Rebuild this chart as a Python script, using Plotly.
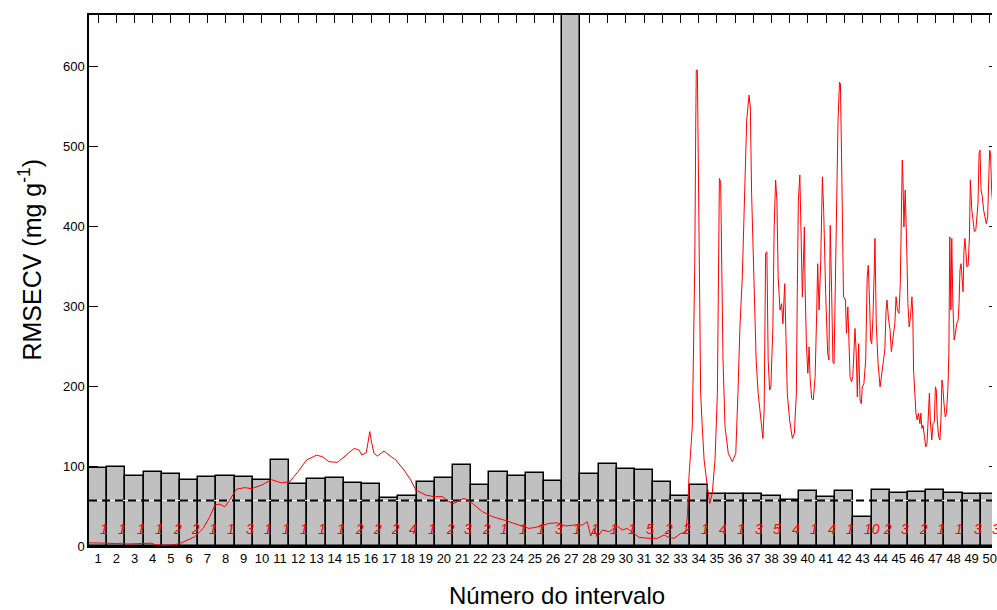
import plotly.graph_objects as go

# ---------------- data ----------------
intervals = list(range(1, 51))
rmsecv = [98, 99, 88, 92, 90, 82, 86.6, 88, 86.6, 83,
          108, 77.5, 84, 85, 79, 77.5, 60, 62, 79.6, 85,
          101.7, 75.8, 93, 88, 91, 81, 700, 89.6, 103, 96,
          94.6, 79.6, 62, 76, 65, 65, 65, 62, 57.5, 69,
          61, 69, 36.7, 70.4, 66.7, 67.5, 70.4, 66.7, 65, 65]
n_lv = [1, 1, 1, 1, 2, 2, 1, 1, 3, 1,
        1, 1, 1, 1, 2, 2, 2, 4, 1, 2,
        3, 2, 1, 1, 1, 3, 1, 1, 1, 1,
        5, 2, 2, 1, 4, 1, 3, 5, 4, 1,
        4, 1, 10, 2, 3, 2, 1, 1, 3, 3]
cutoff = 57
y_ticks = [0, 100, 200, 300, 400, 500, 600]

spec_x = [0.5, 1.0, 1.5, 2.0, 2.28, 2.6, 3.0, 3.5, 3.9, 4.11, 4.4, 4.8, 5.21, 5.58,
          6.31, 6.77, 7.14, 7.41, 7.68, 7.96, 8.23, 8.6, 9.06, 9.42, 9.97, 10.52,
          11.07, 11.53, 11.99, 12.45, 13.0, 13.33, 13.69, 14.15, 14.61, 15.07, 15.34,
          15.49, 15.74, 15.85, 15.93, 16.02, 16.16, 16.35, 16.71, 16.99, 17.36, 17.81,
          18.18, 18.46, 19.0, 19.46, 19.92, 20.47, 21.11, 21.57, 22.12, 22.66, 23.03,
          23.49, 23.58, 24.13, 24.68, 25.05, 25.41, 25.78, 26.24, 26.7, 27.15, 27.61,
          27.88, 28.07, 28.25, 28.43, 28.71, 29.08, 29.53, 29.81, 30.08, 30.36, 30.73,
          31.27, 31.73, 32.1, 32.37, 32.65, 33.02, 33.29, 33.38, 33.47, 33.65, 33.71,
          33.79, 33.84, 33.87, 33.93, 33.97, 34.02, 34.06, 34.11, 34.2, 34.3, 34.48,
          34.61, 34.75, 34.9, 35.03, 35.08, 35.14, 35.21, 35.27, 35.34, 35.45, 35.63,
          35.85, 36.04, 36.16, 36.27, 36.4, 36.53, 36.64, 36.77, 36.84, 36.91, 37.04,
          37.16, 37.27, 37.41, 37.53, 37.6, 37.68, 37.75, 37.82, 37.9, 37.97, 38.08,
          38.15, 38.23, 38.3, 38.37, 38.47, 38.56, 38.63, 38.73, 38.78, 38.87, 39.0,
          39.15, 39.26, 39.37, 39.42, 39.48, 39.56, 39.61, 39.7, 39.76, 39.81, 39.85,
          39.92, 40.0, 40.07, 40.12, 40.21, 40.3, 40.4, 40.49, 40.54, 40.62, 40.71,
          40.8, 40.87, 40.98, 41.09, 41.16, 41.23, 41.31, 41.38, 41.44, 41.53, 41.59,
          41.66, 41.74, 41.79, 41.85, 41.9, 41.96, 42.07, 42.12, 42.2, 42.25, 42.32,
          42.4, 42.47, 42.54, 42.59, 42.66, 42.72, 42.79, 42.87, 42.94, 42.99, 43.08,
          43.18, 43.26, 43.32, 43.4, 43.45, 43.51, 43.58, 43.65, 43.69, 43.76, 43.86,
          43.97, 44.04, 44.13, 44.23, 44.3, 44.35, 44.43, 44.52, 44.59, 44.7, 44.78,
          44.85, 44.92, 45.01, 45.08, 45.19, 45.23, 45.28, 45.35, 45.42, 45.5, 45.57,
          45.64, 45.72, 45.77, 45.81, 45.86, 45.94, 46.01, 46.08, 46.16, 46.21, 46.27,
          46.33, 46.41, 46.48, 46.55, 46.63, 46.68, 46.73, 46.81, 46.88, 46.95, 47.01,
          47.06, 47.11, 47.19, 47.26, 47.32, 47.37, 47.42, 47.48, 47.55, 47.62, 47.7,
          47.75, 47.8, 47.86, 47.91, 47.97, 48.04, 48.11, 48.18, 48.26, 48.31, 48.36,
          48.42, 48.47, 48.53, 48.58, 48.63, 48.69, 48.74, 48.81, 48.88, 48.93, 49.01,
          49.08, 49.15, 49.23, 49.3, 49.35, 49.41, 49.46, 49.52, 49.59, 49.66, 49.74,
          49.81, 49.88, 49.93, 49.99, 50.04, 50.1, 50.17, 50.22, 50.29]
spec_y = [4, 4, 3.5, 3, 3.5, 2.5, 3, 3, 3.5, 2, 1, 1, 1.5, 4,
          11.6, 22, 36.7, 51, 52.5, 49, 57.5, 71, 73, 71.7, 76, 83,
          79, 80.5, 93, 107.5, 113.5, 111.7, 105.4, 104.6, 113.75, 122, 120,
          113.75, 116.7, 132.5, 143, 130.4, 115.8, 112.5, 118.75, 113.75, 107.5, 95,
          82.5, 70, 63.75, 61.7, 61.7, 52.5, 59.6, 53.3, 42.9, 36.7, 34.6,
          31.25, 30.4, 26.25, 22, 23.3, 26, 28.3, 29, 25, 26.25, 26.25,
          30.4, 12.5, 22, 10.8, 20, 17.9, 25, 20, 22, 16.7, 10.8,
          9.6, 9.6, 13.75, 10.8, 9.6, 15.8, 16.7, 36.7, 86.7, 149, 232.5,
          357.5, 524, 595, 595, 482.5, 357.5, 253, 191, 149, 107.5, 74,
          53.3, 66, 107.5, 191, 336.7, 459.6, 455, 357.5, 232.5, 149, 115.8,
          105.4, 115.8, 191, 274, 336.7, 441, 532.5, 563.75, 549, 441, 316,
          232.5, 191, 157.5, 134.6, 170, 366, 368, 232.5, 195, 199, 274,
          399, 457.5, 432.5, 336.7, 295, 303, 278, 328, 274, 191, 157.5,
          134.6, 141, 191, 316, 432.5, 464, 420, 311.6, 357.5, 399, 324,
          253, 216, 249, 211.7, 184.6, 182.5, 211.7, 295, 353, 295, 357.5,
          461.6, 420, 316, 241, 232.5, 401, 316, 230, 228, 345, 457.5,
          532.5, 580, 578, 491, 395, 311.6, 307.5, 266, 299, 253, 211.7,
          205.4, 211.7, 245, 272, 241, 186.6, 253, 182.5, 178, 199, 203,
          232.5, 336.7, 351, 299, 257.5, 253, 286.6, 345, 384.6, 278, 228,
          199, 211.7, 224, 245, 295, 307.5, 284.6, 270, 243, 261.6, 278,
          311.6, 295, 291, 328, 482.5, 457.5, 399, 445, 386.6, 303, 274,
          286.6, 311.6, 286.6, 220, 195, 166, 157.5, 166, 153, 166, 147,
          151, 136.6, 124, 128, 182.5, 191, 157.5, 132.5, 153, 155, 199,
          195, 157.5, 136.6, 132.5, 161.6, 207.5, 199, 178, 161.6, 166, 199,
          241, 386.6, 295, 384.6, 303, 257.5, 266, 278, 282.5, 303, 345,
          353, 336.7, 318, 370, 384.6, 366, 349, 351, 386.6, 457.5, 420,
          407.5, 393, 395, 411.6, 428, 491, 495, 445, 436.6, 420, 411.6,
          403, 411.6, 449, 495, 491, 445, 424, 418, 428]

# ---------------- figure ----------------
X_MIN, X_MAX = 0.5, 50.12
Y_MAX = 664
FONT = "Liberation Sans, Arial, sans-serif"

fig = go.Figure()
fig.add_trace(go.Bar(
    x=intervals, y=rmsecv, width=1.0,
    marker=dict(color="#c0c0c0", line=dict(color="black", width=1.5)),
    showlegend=False, hoverinfo="skip"))
fig.add_trace(go.Scatter(
    x=[X_MIN, X_MAX], y=[cutoff, cutoff], mode="lines",
    line=dict(color="white", width=1), showlegend=False, hoverinfo="skip"))
fig.add_trace(go.Scatter(
    x=[X_MIN, X_MAX], y=[cutoff, cutoff], mode="lines",
    line=dict(color="black", width=2, dash="8px,5px"), showlegend=False, hoverinfo="skip"))
fig.add_trace(go.Scatter(
    x=spec_x, y=spec_y, mode="lines",
    line=dict(color="#ff0000", width=1), showlegend=False, hoverinfo="skip"))
# invisible trace that activates the mirror axes (top ticks / right ticks)
fig.add_trace(go.Scatter(x=[1], y=[0], xaxis="x2", yaxis="y2", mode="markers",
                         marker=dict(opacity=0, size=1),
                         showlegend=False, hoverinfo="skip"))

for i, n in zip(intervals, n_lv):
    fig.add_annotation(x=i, y=21, text=f"<i>{n}</i>", showarrow=False,
                       xanchor="left", yanchor="middle",
                       font=dict(family=FONT, size=14, color="#ff0000"))

fig.add_annotation(xref="paper", yref="paper", x=-0.065, y=0.54,
                   text="RMSECV (mg g<sup>-1</sup>)", textangle=-90, showarrow=False,
                   xanchor="center", yanchor="middle",
                   font=dict(family=FONT, size=25, color="black"))
fig.add_annotation(xref="paper", yref="paper", x=0.5187, y=-0.094,
                   text="Número do intervalo", showarrow=False,
                   xanchor="center", yanchor="middle",
                   font=dict(family=FONT, size=24, color="black"))

fig.update_layout(
    width=997, height=610,
    margin=dict(l=89, r=0, t=15, b=64),
    paper_bgcolor="white", plot_bgcolor="white",
    bargap=0, showlegend=False,
    font=dict(family=FONT, size=13, color="black"),
    xaxis=dict(range=[X_MIN, X_MAX], tickmode="array", tickvals=intervals,
               ticktext=[str(i) for i in intervals], ticks="",
               ticklabeloverflow="allow",
               showline=True, linecolor="black", linewidth=1.5,
               showgrid=False, zeroline=False, layer="below traces",
               tickfont=dict(family=FONT, size=13, color="black")),
    xaxis2=dict(range=[X_MIN, X_MAX], overlaying="x", side="top", anchor="y",
                tickmode="array", tickvals=intervals, ticks="inside", ticklen=8,
                tickwidth=1, tickcolor="black", showticklabels=False,
                showline=True, linecolor="black", linewidth=1.5,
                showgrid=False, zeroline=False, layer="below traces"),
    yaxis=dict(range=[0, Y_MAX], tickmode="array", tickvals=y_ticks,
               ticks="inside", ticklen=9, tickwidth=1, tickcolor="black",
               showline=True, linecolor="black", linewidth=1.5,
               showgrid=False, zeroline=False, layer="below traces",
               tickfont=dict(family=FONT, size=13, color="black")),
    yaxis2=dict(range=[0, Y_MAX], overlaying="y", side="right", anchor="x",
                tickmode="array", tickvals=y_ticks, ticks="inside", ticklen=3,
                tickwidth=1, tickcolor="black", showticklabels=False,
                showline=False, showgrid=False, zeroline=False),
)

fig.write_html("out.html")
